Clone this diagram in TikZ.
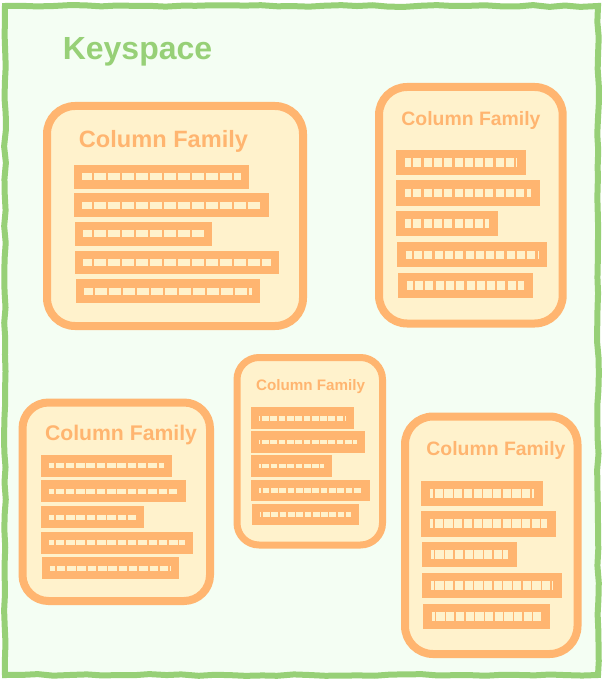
\documentclass[tikz,border=0pt]{standalone}
\usepackage{fontspec}
\setmainfont{Liberation Sans}
\usetikzlibrary{decorations.pathmorphing}
\definecolor{cforange}{HTML}{FFB570}
\definecolor{cfyellow}{HTML}{FFF2CC}
\definecolor{ksgreen}{HTML}{97D077}
\definecolor{ksmint}{HTML}{F4FEF3}
\tikzset{
  cfbox/.style={draw=cforange, fill=cfyellow, inner sep=0pt, outer sep=0pt},
  cftitle/.style={text=cforange, font=\bfseries, anchor=base, inner sep=0pt},
  barfill/.style={fill=cforange},
  dashline/.style={draw=cfyellow},
}
% name x1 y1 x2 y2
\newcommand\cfbar[5]{%
  \fill[barfill] (#2,#3) rectangle (#4,#5);
  \coordinate (#1l) at (#2+\barinset,{(#3+#5)/2});
  \coordinate (#1r) at (#4-\barinset,{(#3+#5)/2});
  \draw[dashline] (#1l) -- (#1r);}
\begin{document}
\begin{tikzpicture}[x=1pt,y=-1pt]
\useasboundingbox (0,0) rectangle (606,682);
\fill[white] (0,0) rectangle (606,682);
% keyspace frame
\fill[ksmint] (5,6) rectangle (598,675);
\pgfmathsetseed{7}
\draw[ksgreen, line width=6pt, decorate,
  decoration={random steps, segment length=16pt, amplitude=0.9pt}]
  (5,6) -- (598,6) -- (598,675) -- (5,675) -- cycle;
\node[text=ksgreen, font=\bfseries\fontsize{32}{38}\selectfont, anchor=base, inner sep=0pt] (ks) at (137.5,60) {Keyspace};

% CF1
\node[cfbox, line width=8pt, rounded corners=28pt, minimum width=256pt, minimum height=220pt] (cf1) at (175,216) {};
\node[cftitle, font=\bfseries\fontsize{23.6}{28}\selectfont] (cf1t) at (163.5,147) {Column Family};
\begin{scope}[dashline/.append style={line width=7pt, dash pattern=on 12pt off 2pt, dash phase=2.7pt}]
\def\barinset{8}
\cfbar{a1}{74.3}{164.5}{249.3}{188.5}
\cfbar{a2}{74.3}{193.3}{269.3}{217.3}
\cfbar{a3}{75}{221.7}{211.7}{245.7}
\cfbar{a4}{75}{250.7}{279}{274.3}
\cfbar{a5}{76}{279.3}{260}{303.3}
\end{scope}

% CF2
\node[cfbox, line width=8pt, rounded corners=28pt, minimum width=183.7pt, minimum height=236.5pt] (cf2) at (470.85,205.25) {};
\node[cftitle, font=\bfseries\fontsize{19.4}{23}\selectfont] (cf2t) at (471,125.7) {Column Family};
\begin{scope}[dashline/.append style={line width=8.5pt, dash pattern=on 8pt off 2.3pt, dash phase=2pt}]
\def\barinset{9}
\cfbar{b1}{396}{150}{526}{175}
\cfbar{b2}{396}{180}{540}{206}
\cfbar{b3}{396}{211}{498.3}{236}
\cfbar{b4}{396.7}{242.3}{546.7}{267.3}
\cfbar{b5}{397.7}{272.7}{533.3}{298.3}
\end{scope}

% CF3
\node[cfbox, line width=8pt, rounded corners=26pt, minimum width=187.5pt, minimum height=198.5pt] (cf3) at (116.25,501.75) {};
\node[cftitle, font=\bfseries\fontsize{21.2}{25}\selectfont] (cf3t) at (121,440) {Column Family};
\begin{scope}[dashline/.append style={line width=5pt, dash pattern=on 8.5pt off 1.8pt, dash phase=3.5pt}]
\def\barinset{8}
\cfbar{c1}{40.7}{455}{171.7}{476.7}
\cfbar{c2}{40.7}{480.3}{185.7}{502.3}
\cfbar{c3}{41}{506}{144}{528.3}
\cfbar{c4}{41}{531.7}{192.7}{554}
\cfbar{c5}{42}{557.3}{179}{579.3}
\end{scope}

% CF4
\node[cfbox, line width=7pt, rounded corners=22pt, minimum width=145.5pt, minimum height=187.5pt] (cf4) at (309.75,451.25) {};
\node[cftitle, font=\bfseries\fontsize{15.2}{18}\selectfont] (cf4t) at (310.5,390) {Column Family};
\begin{scope}[dashline/.append style={line width=4.7pt, dash pattern=on 6.7pt off 1.6pt, dash phase=5pt}]
\def\barinset{8}
\cfbar{d1}{250.7}{407.3}{354}{429}
\cfbar{d2}{250.7}{431}{365}{452.7}
\cfbar{d3}{251}{455}{331.7}{476.7}
\cfbar{d4}{251.3}{480}{370}{501}
\cfbar{d5}{251.7}{504}{359.3}{525}
\end{scope}

% CF5
\node[cfbox, line width=8pt, rounded corners=28pt, minimum width=172.5pt, minimum height=237.5pt] (cf5) at (491.25,535.25) {};
\node[cftitle, font=\bfseries\fontsize{19.4}{23}\selectfont] (cf5t) at (496,455.7) {Column Family};
\begin{scope}[dashline/.append style={line width=9pt, dash pattern=on 8.3pt off 1.4pt, dash phase=5pt}]
\def\barinset{9}
\cfbar{e1}{421}{480.7}{542.7}{506}
\cfbar{e2}{421}{511}{556}{536.7}
\cfbar{e3}{421.7}{541.7}{517.3}{566.7}
\cfbar{e4}{421.7}{573.3}{562.3}{598.3}
\cfbar{e5}{422.7}{604}{550}{629}
\end{scope}
\end{tikzpicture}
\end{document}
